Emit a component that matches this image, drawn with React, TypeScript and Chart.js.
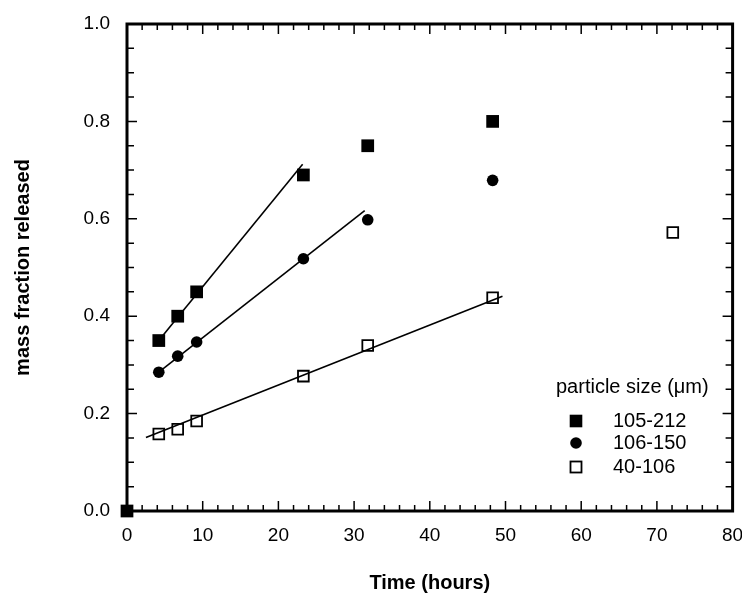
import React, { useEffect, useRef } from 'react';
import { Chart, registerables } from 'chart.js';

Chart.register(...registerables);

// ---- data ----
const timesLarge = [0, 4.2, 6.7, 9.2, 23.3, 31.8, 48.3];
const valuesLarge = [0, 0.35, 0.40, 0.45, 0.69, 0.75, 0.80];

const timesMid = [4.2, 6.7, 9.2, 23.3, 31.8, 48.3];
const valuesMid = [0.285, 0.318, 0.347, 0.518, 0.598, 0.679];

const timesSmall = [4.2, 6.7, 9.2, 23.3, 31.8, 48.3, 72.1];
const valuesSmall = [0.158, 0.168, 0.185, 0.277, 0.340, 0.438, 0.572];

// fitted lines (start / end)
const fitLargeX = [4.2, 23.2];
const fitLargeY = [0.35, 0.712];
const fitMidX = [4.2, 31.4];
const fitMidY = [0.285, 0.617];
const fitSmallX = [2.5, 49.6];
const fitSmallY = [0.151, 0.441];

const legendTitle = 'particle size (\u03bcm)';
const legendLabels = ['105-212', '106-150', '40-106'];
const xTitle = 'Time (hours)';
const yTitle = 'mass fraction released';

const FONT = '"Liberation Sans", Arial, Helvetica, sans-serif';

const toPts = (xs: number[], ys: number[]) => xs.map((x, i) => ({ x, y: ys[i] }));

const framePlugin = {
  id: 'frameTicks',
  beforeDatasetsDraw(chart: any) {
    const { ctx, chartArea: a, scales } = chart;
    const xs = scales.x;
    const ys = scales.y;
    ctx.save();
    ctx.strokeStyle = '#000';
    ctx.lineWidth = 1.5;
    for (let v = 0; v <= 80 + 1e-9; v += 2) {
      const px = xs.getPixelForValue(v);
      const len = Math.abs(v % 10) < 1e-6 ? 10 : 6;
      ctx.beginPath();
      ctx.moveTo(px, a.bottom);
      ctx.lineTo(px, a.bottom - len);
      ctx.moveTo(px, a.top);
      ctx.lineTo(px, a.top + len);
      ctx.stroke();
    }
    for (let i = 0; i <= 20; i++) {
      const v = i * 0.05;
      const py = ys.getPixelForValue(v);
      const len = i % 4 === 0 ? 10 : 7;
      ctx.beginPath();
      ctx.moveTo(a.left, py);
      ctx.lineTo(a.left + len, py);
      ctx.moveTo(a.right, py);
      ctx.lineTo(a.right - len, py);
      ctx.stroke();
    }
    ctx.lineWidth = 3;
    ctx.strokeRect(a.left, a.top, a.right - a.left, a.bottom - a.top);
    ctx.restore();
  },
  afterDraw(chart: any) {
    const { ctx, chartArea: a } = chart;
    ctx.save();
    ctx.fillStyle = '#000';
    ctx.font = `bold 20px ${FONT}`;
    ctx.textAlign = 'center';
    ctx.textBaseline = 'middle';
    ctx.fillText(xTitle, (a.left + a.right) / 2, 583);
    ctx.save();
    ctx.translate(23, (a.top + a.bottom) / 2);
    ctx.rotate(-Math.PI / 2);
    ctx.fillText(yTitle, 0, 0);
    ctx.restore();

    // legend
    ctx.font = `20px ${FONT}`;
    ctx.textAlign = 'left';
    ctx.fillText(legendTitle, 556, 387);
    const ys = [421, 443, 467];
    legendLabels.forEach((t, i) => ctx.fillText(t, 613, ys[i]));
    ctx.fillStyle = '#000';
    ctx.fillRect(576 - 6.3, ys[0] - 6.3, 12.6, 12.6);
    ctx.beginPath();
    ctx.arc(576, ys[1], 5.8, 0, Math.PI * 2);
    ctx.fill();
    ctx.lineWidth = 1.8;
    ctx.strokeStyle = '#000';
    ctx.fillStyle = '#fff';
    ctx.fillRect(576 - 5.5, ys[2] - 5.5, 11, 11);
    ctx.strokeRect(576 - 5.5, ys[2] - 5.5, 11, 11);
    ctx.restore();
  },
};

export default function App() {
  const ref = useRef<HTMLCanvasElement>(null);
  useEffect(() => {
    if (!ref.current) return;
    const lineDs = (xs: number[], ys: number[]) => ({
      type: 'line' as const,
      data: toPts(xs, ys),
      borderColor: '#000',
      borderWidth: 1.6,
      pointRadius: 0,
      showLine: true,
      fill: false,
    });
    const chart = new Chart(ref.current, {
      type: 'scatter',
      data: {
        datasets: [
          lineDs(fitLargeX, fitLargeY),
          lineDs(fitMidX, fitMidY),
          lineDs(fitSmallX, fitSmallY),
          {
            label: legendLabels[0],
            data: toPts(timesLarge, valuesLarge),
            pointStyle: 'rect',
            pointRadius: 9,
            backgroundColor: '#000',
            borderColor: '#000',
            borderWidth: 0,
            clip: false,
          } as any,
          {
            label: legendLabels[1],
            data: toPts(timesMid, valuesMid),
            pointStyle: 'circle',
            pointRadius: 5.8,
            backgroundColor: '#000',
            borderColor: '#000',
            borderWidth: 0,
            clip: false,
          } as any,
          {
            label: legendLabels[2],
            data: toPts(timesSmall, valuesSmall),
            pointStyle: 'rect',
            pointRadius: 7.6,
            backgroundColor: '#fff',
            borderColor: '#000',
            borderWidth: 1.8,
            clip: false,
          } as any,
        ],
      },
      options: {
        responsive: true,
        maintainAspectRatio: false,
        animation: false,
        layout: { padding: { left: 0, top: 24, right: 9, bottom: 0 } },
        plugins: {
          legend: { display: false },
          tooltip: { enabled: false },
        },
        scales: {
          x: {
            type: 'linear',
            min: 0,
            max: 80,
            grid: { display: false, drawTicks: false },
            border: { display: false },
            ticks: {
              stepSize: 10,
              padding: 13,
              color: '#000',
              font: { family: FONT, size: 19 },
              maxRotation: 0,
            },
            afterFit: (s: any) => {
              s.height = 89;
              s.paddingLeft = 0;
              s.paddingRight = 0;
            },
          },
          y: {
            type: 'linear',
            min: 0,
            max: 1,
            grid: { display: false, drawTicks: false },
            border: { display: false },
            ticks: {
              stepSize: 0.2,
              padding: 17,
              color: '#000',
              font: { family: FONT, size: 19 },
              callback: (v: any) => Number(v).toFixed(1),
            },
            afterFit: (s: any) => {
              s.width = 127;
              s.paddingTop = 0;
              s.paddingBottom = 0;
            },
          },
        },
      },
      plugins: [framePlugin],
    });
    return () => chart.destroy();
  }, []);
  return (
    <div style={{ position: 'fixed', left: 0, top: 0, width: 742, height: 600, background: '#fff' }}>
      <canvas ref={ref} />
    </div>
  );
}
